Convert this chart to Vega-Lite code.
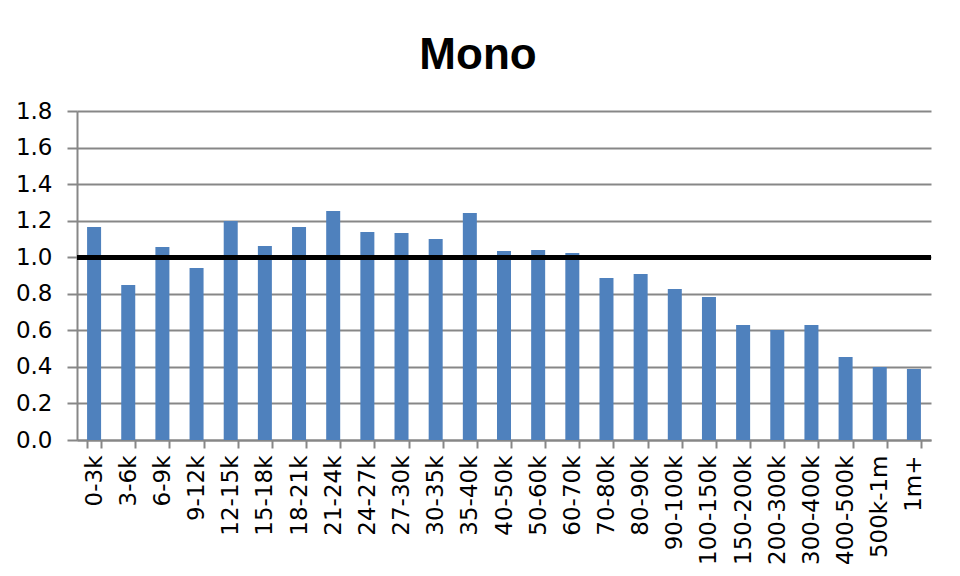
{
  "$schema": "https://vega.github.io/schema/vega-lite/v6.json",
  "autosize": {"type": "none"},
  "width": 854,
  "height": 329,
  "padding": {"left": 77, "top": 111, "right": 29, "bottom": 136},
  "background": "white",
  "title": {
    "text": "Mono",
    "font": "Liberation Sans",
    "fontSize": 44,
    "fontWeight": "bold",
    "color": "black",
    "anchor": "middle",
    "dx": -26,
    "offset": 22
  },
  "data": {
    "values": [
      {"band": "0-3k", "value": 1.165},
      {"band": "3-6k", "value": 0.848},
      {"band": "6-9k", "value": 1.056},
      {"band": "9-12k", "value": 0.941},
      {"band": "12-15k", "value": 1.198},
      {"band": "15-18k", "value": 1.061},
      {"band": "18-21k", "value": 1.165},
      {"band": "21-24k", "value": 1.253},
      {"band": "24-27k", "value": 1.138},
      {"band": "27-30k", "value": 1.132},
      {"band": "30-35k", "value": 1.1},
      {"band": "35-40k", "value": 1.242},
      {"band": "40-50k", "value": 1.034},
      {"band": "50-60k", "value": 1.039},
      {"band": "60-70k", "value": 1.023},
      {"band": "70-80k", "value": 0.886},
      {"band": "80-90k", "value": 0.908},
      {"band": "90-100k", "value": 0.826},
      {"band": "100-150k", "value": 0.782},
      {"band": "150-200k", "value": 0.629},
      {"band": "200-300k", "value": 0.602},
      {"band": "300-400k", "value": 0.629},
      {"band": "400-500k", "value": 0.454},
      {"band": "500k-1m", "value": 0.399},
      {"band": "1m+", "value": 0.388}
    ]
  },
  "layer": [
    {
      "mark": {"type": "bar", "color": "#4F81BD"},
      "encoding": {
        "x": {
          "field": "band",
          "type": "nominal",
          "sort": null,
          "title": null,
          "scale": {"paddingInner": 0.59, "paddingOuter": 0.295},
          "axis": {
            "labelAngle": -90,
            "labelOverlap": false,
            "labelFont": "DejaVu Sans",
            "labelFontSize": 23,
            "labelPadding": 7,
            "tickBand": "extent",
            "tickSize": 8,
            "grid": false
          }
        },
        "y": {
          "field": "value",
          "type": "quantitative",
          "title": null,
          "scale": {"domain": [0, 1.8], "nice": false},
          "axis": {
            "values": [0, 0.2, 0.4, 0.6, 0.8, 1.0, 1.2, 1.4, 1.6, 1.8],
            "format": ".1f",
            "labelOverlap": false,
            "labelFont": "DejaVu Sans",
            "labelFontSize": 23,
            "labelPadding": 15,
            "labelFlush": false,
            "tickSize": 10,
            "grid": true
          }
        }
      }
    },
    {
      "mark": {"type": "rule", "color": "black", "strokeWidth": 4},
      "encoding": {
        "y": {
          "datum": 1.0,
          "type": "quantitative",
          "title": null,
          "scale": {"domain": [0, 1.8], "nice": false},
          "axis": {
            "values": [0, 0.2, 0.4, 0.6, 0.8, 1.0, 1.2, 1.4, 1.6, 1.8],
            "format": ".1f",
            "labelOverlap": false,
            "labelFont": "DejaVu Sans",
            "labelFontSize": 23,
            "labelPadding": 15,
            "labelFlush": false,
            "tickSize": 10,
            "grid": true
          }
        }
      }
    }
  ],
  "config": {
    "view": {"stroke": null},
    "axis": {
      "labelColor": "black",
      "tickWidth": 2,
      "tickColor": "#878787",
      "domainColor": "#878787",
      "domainWidth": 2,
      "gridColor": "#878787",
      "gridWidth": 2
    }
  }
}
